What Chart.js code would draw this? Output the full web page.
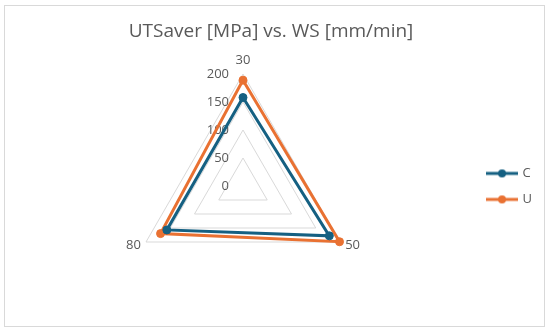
<!DOCTYPE html>
<html>
<head>
<meta charset="utf-8">
<script src="https://cdn.jsdelivr.net/npm/chart.js@4"></script>
<style>
  html, body { margin: 0; padding: 0; background: #fff; }
  canvas { display: block; }
</style>
</head>
<body>
<canvas id="chart" width="550" height="334"></canvas>
<script>
const categories = ["30", "50", "80"];
const seriesC = [158, 178, 157];
const seriesU = [189, 199, 170];
const tickValues = [0, 50, 100, 150, 200];

const textColor = "#595959";
const gridColor = "#d9d9d9";
const colorC = "#156082";
const colorU = "#e97132";

Chart.defaults.font.family = '"Open Sans", "Liberation Sans", sans-serif';
Chart.defaults.color = textColor;

// little line-with-dot picture for the legend, like the office marker
function markerImage(color) {
  const c = document.createElement("canvas");
  c.width = 32;
  c.height = 10;
  const g = c.getContext("2d");
  g.strokeStyle = color;
  g.lineWidth = 3;
  g.beginPath();
  g.moveTo(0, 5);
  g.lineTo(32, 5);
  g.stroke();
  g.fillStyle = color;
  g.beginPath();
  g.arc(16, 5, 4, 0, Math.PI * 2);
  g.fill();
  return c;
}

const frame = {
  id: "frame",
  beforeDraw(chart) {
    const ctx = chart.ctx;
    ctx.save();
    ctx.fillStyle = "#fff";
    ctx.fillRect(0, 0, chart.width, chart.height);
    ctx.strokeStyle = gridColor;
    ctx.lineWidth = 1;
    ctx.strokeRect(4.5, 5.5, 540, 321);
    ctx.restore();
  }
};

// tick labels sit right-aligned just left of the vertical axis
const tickLabels = {
  id: "tickLabels",
  beforeDatasetsDraw(chart) {
    const r = chart.scales.r;
    const ctx = chart.ctx;
    ctx.save();
    ctx.font = '13px "Open Sans", "Liberation Sans", sans-serif';
    ctx.fillStyle = textColor;
    ctx.textAlign = "right";
    ctx.textBaseline = "middle";
    r.ticks.forEach(t => {
      const p = r.getPointPositionForValue(0, t.value);
      ctx.fillText(t.label, p.x - 14, p.y);
    });
    ctx.restore();
  }
};

new Chart(document.getElementById("chart"), {
  type: "radar",
  data: {
    labels: categories,
    datasets: [
      { label: "C", data: seriesC, borderColor: colorC, backgroundColor: colorC, pointBackgroundColor: colorC, pointBorderColor: colorC, borderWidth: 3, pointRadius: 4, pointBorderWidth: 1, fill: false },
      { label: "U", data: seriesU, borderColor: colorU, backgroundColor: colorU, pointBackgroundColor: colorU, pointBorderColor: colorU, borderWidth: 3, pointRadius: 4, pointBorderWidth: 1, fill: false }
    ]
  },
  options: {
    responsive: false,
    animation: false,
    devicePixelRatio: 1,
    layout: { padding: { left: 0, right: 8, top: 0, bottom: 8 } },
    plugins: {
      title: {
        display: true,
        text: "UTSaver [MPa] vs. WS [mm/min]",
        color: textColor,
        font: { size: 19, weight: "normal" },
        padding: { top: 20, bottom: 4 }
      },
      legend: {
        position: "right",
        fullSize: false,
        labels: {
          color: textColor,
          font: { size: 13 },
          padding: 13,
          usePointStyle: true,
          pointStyleWidth: 28,
          generateLabels: chart => chart.data.datasets.map((ds, i) => ({
            text: ds.label,
            pointStyle: markerImage(ds.borderColor),
            fillStyle: ds.borderColor,
            strokeStyle: ds.borderColor,
            lineWidth: 0,
            hidden: false,
            datasetIndex: i,
            fontColor: textColor
          }))
        }
      },
      tooltip: { enabled: false }
    },
    scales: {
      r: {
        min: 0,
        max: 200,
        ticks: { stepSize: 50, display: false },
        afterBuildTicks: scale => { scale.ticks = tickValues.map(v => ({ value: v })); },
        grid: { color: gridColor, lineWidth: 1 },
        angleLines: { display: false },
        pointLabels: { color: textColor, font: { size: 13 }, padding: 6 },
        afterSetDimensions: scale => {
          scale.xCenter = 243;
          scale.yCenter = 186;
          scale.drawingArea = 112;
        },
        afterFit: scale => {
          (scale._pointLabelItems || []).forEach((item, i) => {
            if (i > 0) { item.y -= 8; item.top -= 8; item.bottom -= 8; }
          });
        }
      }
    }
  },
  plugins: [frame, tickLabels]
});
</script>
</body>
</html>
